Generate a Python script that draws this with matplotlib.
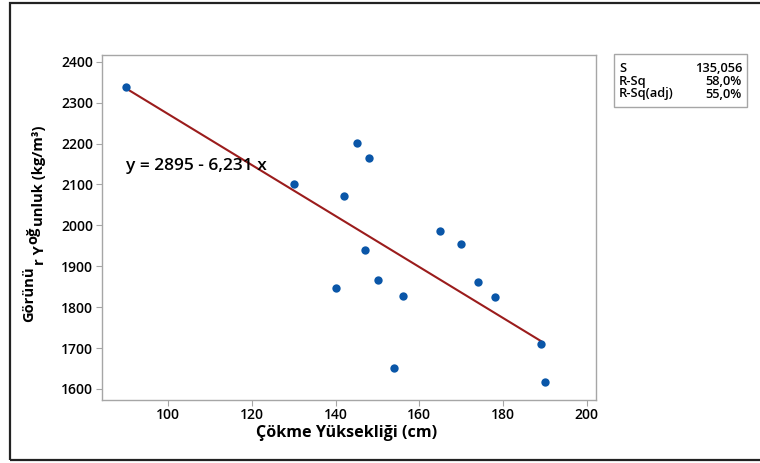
import matplotlib
matplotlib.use("Agg")
import matplotlib.pyplot as plt
from matplotlib.patches import Rectangle
import numpy as np

plt.rcParams['font.family'] = ['Open Sans', 'DejaVu Sans']

# slump height (cm) vs apparent density (kg/m3)
slump = [90, 130, 140, 142, 145, 147, 148, 150, 154, 156, 165, 170, 174, 178, 189, 190]
density = [2337, 2101, 1848, 2071, 2201, 1939, 2165, 1866, 1651, 1827, 1985, 1955, 1861, 1824, 1710, 1616]

intercept = 2895
slope = -6.231
stat_names = ['S', 'R-Sq', 'R-Sq(adj)']
stat_values = ['135,056', '58,0%', '55,0%']

W, H = 760, 463
fig = plt.figure(figsize=(W / 100, H / 100), dpi=100)
ax = fig.add_axes([101.7 / W, 1 - 400 / H, (596 - 101.7) / W, (400 - 55) / H])

x = np.array(slump)
y = np.array(density)
line_x = np.array([x.min(), x.max() - 1])
ax.plot(line_x, intercept + slope * line_x, color='#9b1c1c', lw=1.5, zorder=2)
ax.plot(x, y, 'o', color='#0a56a8', ms=6, mec='none', zorder=3)

ax.text(90, 2145, 'y = 2895 - 6,231 x', fontsize=12.5, fontweight='semibold',
        va='center', ha='left', zorder=4)

ax.set_xlim(84.1, 202.2)
ax.set_ylim(1573, 2416.4)
ax.set_xticks(range(100, 201, 20))
ax.set_yticks(range(1600, 2401, 100))
for s in ax.spines.values():
    s.set_color('#a6a6a6')
    s.set_linewidth(1)
ax.tick_params(direction='out', length=4, color='#a6a6a6', labelsize=10, pad=2)
for lab in ax.get_xticklabels() + ax.get_yticklabels():
    lab.set_fontweight('semibold')

fig.text(347 / W, 1 - 433 / H, 'Çökme Yüksekliği (cm)', fontsize=11.6,
         fontweight='bold', ha='center', va='center')

# y label drawn piece by piece, each piece continuing where the last one ended
pieces = [('Görünü', 33), ('r Y', 44), ('oğ', 37), ('unluk (kg/m³)', 43)]
renderer = fig.canvas.get_renderer()
y_pos = H - 322
for txt, bx in pieces:
    t = fig.text(bx / W, y_pos / H, txt, fontsize=10.6, fontweight='bold',
                 rotation=90, rotation_mode='anchor', ha='left', va='baseline')
    bb = t.get_window_extent(renderer)
    y_pos = bb.y1 + 1

# statistics box
fig.add_artist(Rectangle((614 / W, 1 - 107 / H), (747 - 614) / W, (107 - 54) / H,
                         transform=fig.transFigure, fill=False,
                         edgecolor='#a6a6a6', lw=1))
for i, (n, v) in enumerate(zip(stat_names, stat_values)):
    yy = 1 - (69 + 12.5 * i) / H
    fig.text(619 / W, yy, n, fontsize=9.3, fontweight='semibold', va='center', ha='left')
    fig.text(742 / W, yy, v, fontsize=9.3, fontweight='semibold', va='center', ha='right')

# outer frame
fig.add_artist(Rectangle((10 / W, 1 - 460 / H), 800 / W, (460 - 3) / H,
                         transform=fig.transFigure, fill=False,
                         edgecolor='#222222', lw=1.6))

fig.savefig('out.png', dpi=100)
